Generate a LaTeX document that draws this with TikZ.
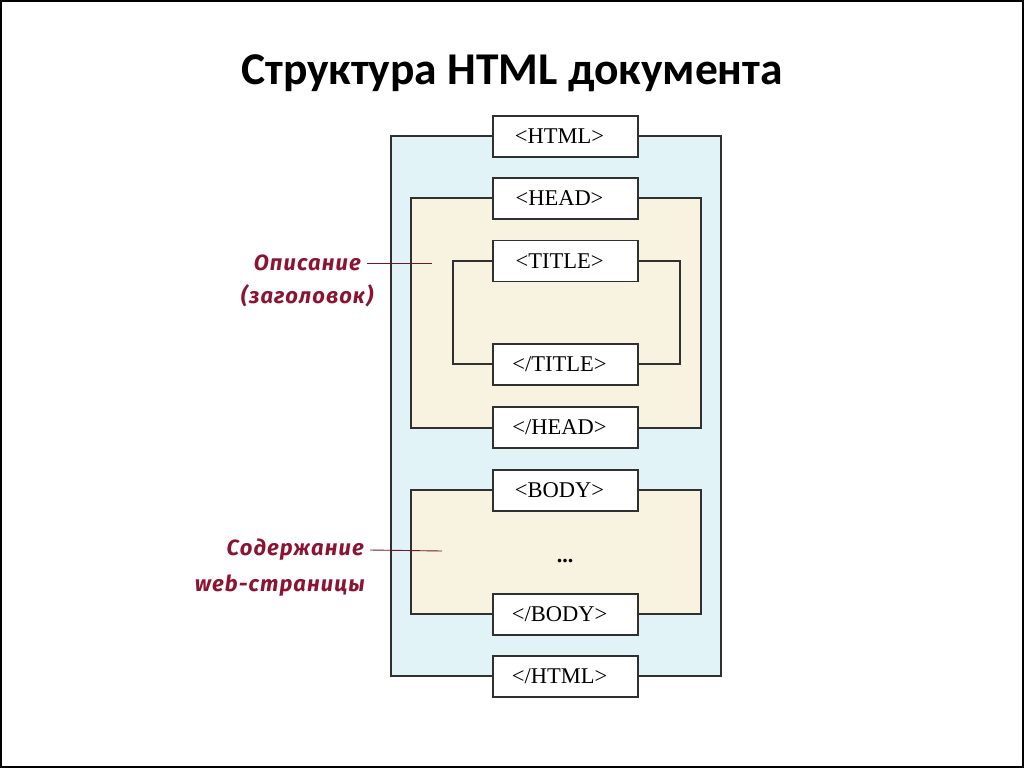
\documentclass[tikz,border=0pt]{standalone}
\usepackage{fontspec}
\setmainfont{Liberation Serif}
\newfontfamily\titlefont{Carlito}
\newfontfamily\labelfont[LetterSpace=5]{Fira Sans}
\definecolor{htmlblue}{HTML}{E2F3F8}
\definecolor{cream}{HTML}{F8F2E0}
\definecolor{lblred}{HTML}{8B1433}
\definecolor{lineclr}{HTML}{6A1A2A}
\definecolor{edge}{HTML}{303030}
\tikzset{
  cont/.style={draw=edge, line width=1.3pt, inner sep=0pt},
  tag/.style={draw=edge, line width=1.3pt, fill=white, minimum width=145pt, minimum height=41pt, inner sep=0pt, font=\fontsize{22.5}{25}\selectfont, execute at end node={\hspace*{12pt}}},
  lbl/.style={text=lblred, inner sep=0pt, font=\labelfont\bfseries\itshape\fontsize{22}{26}\selectfont},
  lblline/.style={draw=lineclr, line width=0.9pt}
}
\begin{document}
\begin{tikzpicture}[x=1pt,y=-1pt]
\useasboundingbox (0,0) rectangle (1024,768);
\draw[line width=2pt] (1,1) rectangle (1023,767);
\node[font=\titlefont\bfseries\fontsize{45.5}{52}\selectfont] (title) at (512,73) {Структура HTML документа};
% containers
\node[cont, fill=htmlblue, minimum width=330pt, minimum height=540pt] (htmlbox) at (556,406) {};
\node[cont, fill=cream, minimum width=290pt, minimum height=230pt] (headbox) at (556,313) {};
\node[cont, minimum width=227pt, minimum height=103pt] (titlebox) at (566.5,312.5) {};
\node[cont, fill=cream, minimum width=290pt, minimum height=124pt] (bodybox) at (556,552) {};
% tags
\node[tag] (htmlo) at (565.5,136.5) {<HTML>};
\node[tag] (heado) at (565.5,198.5) {<HEAD>};
\node[tag] (titleo) at (565.5,261) {<TITLE>};
\node[tag] (titlec) at (565.5,364.5) {</TITLE>};
\node[tag] (headc) at (565.5,427.5) {</HEAD>};
\node[tag] (bodyo) at (565.5,490.5) {<BODY>};
\node[tag] (bodyc) at (565.5,614.5) {</BODY>};
\node[tag] (htmlc) at (565.5,676.5) {</HTML>};
\node[font=\bfseries\fontsize{22}{24}\selectfont] (dots) at (565,561) {...};
% labels
\node[lbl, anchor=east] (desc) at (361,263) {Описание};
\node[lbl] (desc2) at (307,296) {(заголовок)};
\coordinate (descend) at (432,263);
\draw[lblline] ([xshift=6pt]desc.east) -- (descend);
\node[lbl, anchor=east] (cont) at (364,550) {Содержание};
\node[lbl, anchor=east] (cont2) at (365,586) {web-страницы};
\coordinate (contend) at (442,551);
\draw[lblline] ([xshift=6pt]cont.east) -- (contend);
\end{tikzpicture}
\end{document}
